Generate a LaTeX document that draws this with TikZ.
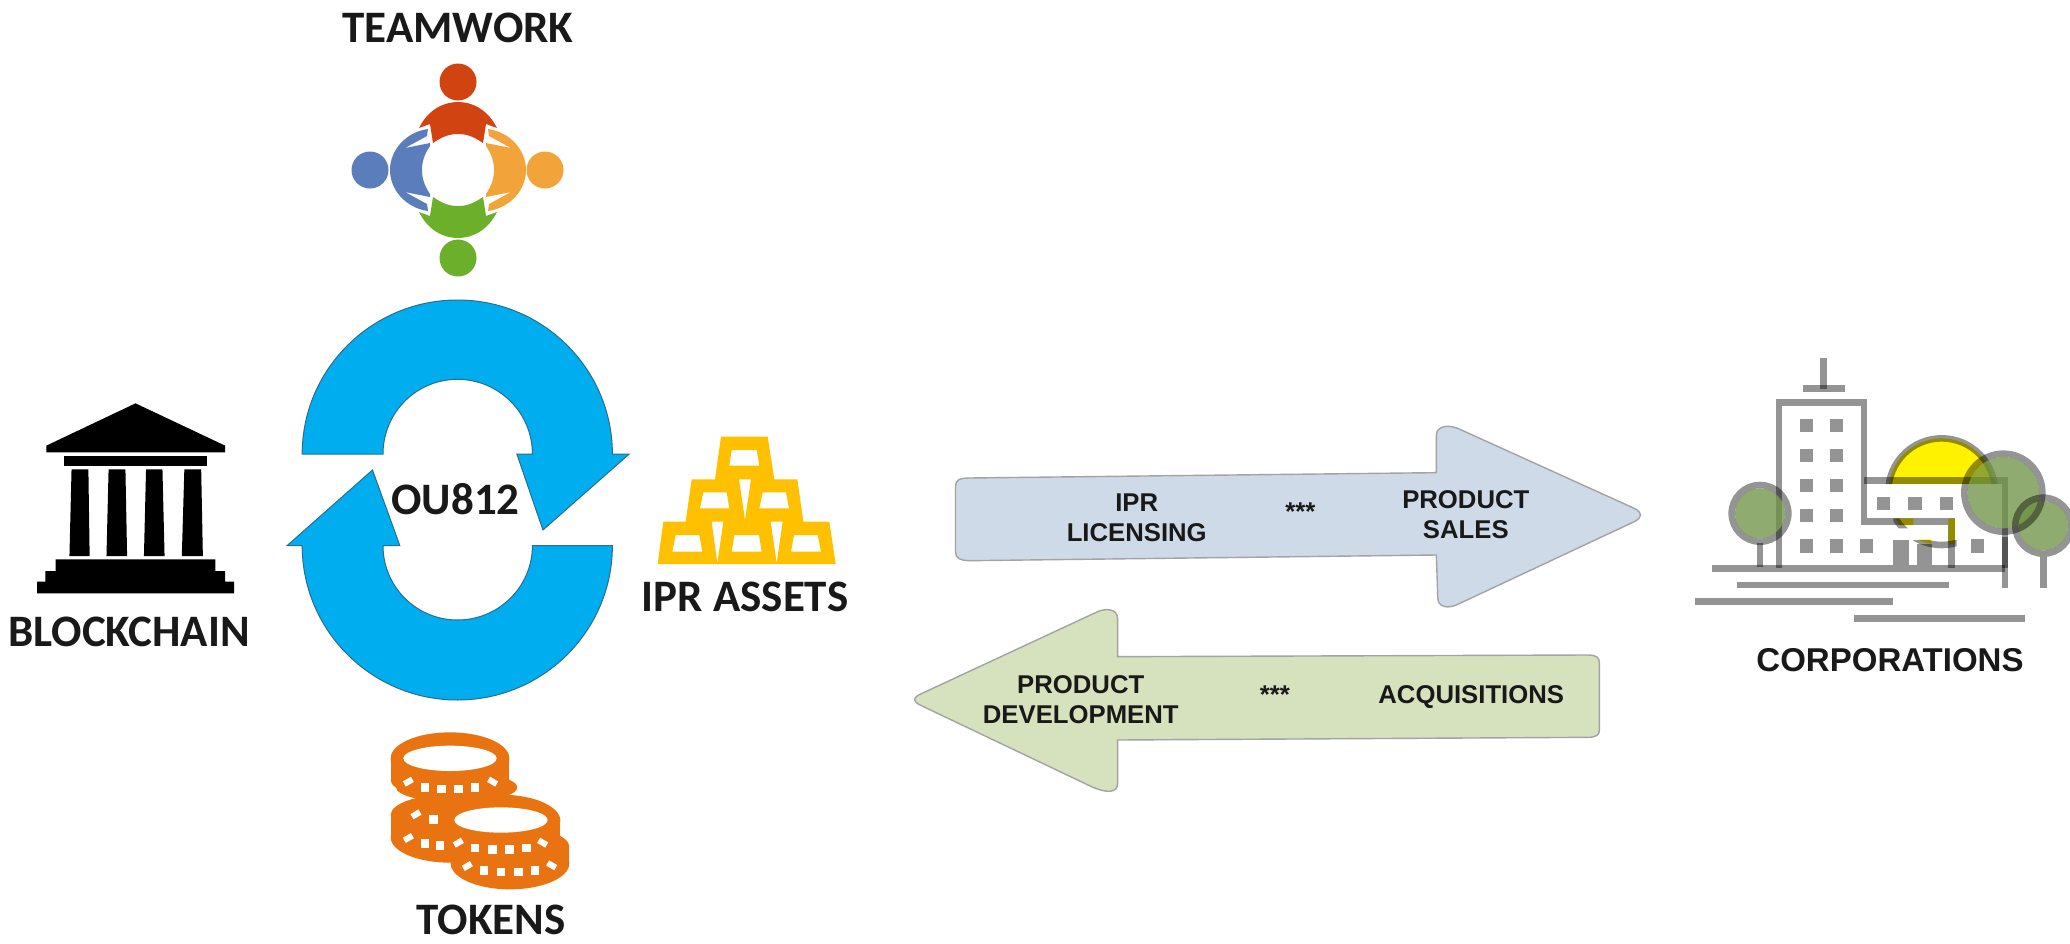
\documentclass[tikz,border=0pt]{standalone}
\usepackage{fontspec}
\setmainfont{Carlito}
\newfontfamily\arl{Liberation Sans}
\definecolor{cyc}{HTML}{00AEEF}
\definecolor{cycl}{HTML}{2A6E8C}
\definecolor{tred}{HTML}{D24312}
\definecolor{tblue}{HTML}{5B7DBB}
\definecolor{tora}{HTML}{F2A33A}
\definecolor{tgre}{HTML}{6BAF2A}
\definecolor{gold}{HTML}{FFC000}
\definecolor{coin}{HTML}{E97311}
\definecolor{arblue}{HTML}{CFDAE8}
\definecolor{argreen}{HTML}{D6E1BE}
\definecolor{argrey}{HTML}{A3A3A3}
\definecolor{treeg}{HTML}{6B9040}
\tikzset{
 lab/.style={inner sep=0pt,font=\fontsize{45}{48}\selectfont\bfseries,text=black!90},
 alab/.style={inner sep=0pt,align=center,font=\arl\fontsize{25.7}{30}\selectfont\bfseries,text=black!90},
 cyclearrow/.style={fill=cyc,draw=cycl,line width=1pt,line join=miter},
 bigarrow/.style={draw=argrey,line width=1.4pt},
 cline/.style={draw=black,draw opacity=.42,line width=6.6pt},
 cfill/.style={fill=black,fill opacity=.42},
 treefill/.style={fill=treeg,fill opacity=.75},
 treeline/.style={draw=black,draw opacity=.42,line width=6.6pt},
}
\begin{document}
\begin{tikzpicture}[x=1pt,y=-1pt]
\path[fill=white,use as bounding box] (0,0) rectangle (2070,943);

% ---- teamwork
\begin{scope}[shift={(458,170)}]
 \fill[tred] (0,-88) circle[radius=18.5];
 \fill[tgre] (0,88) circle[radius=18.5];
 \fill[tblue] (-88,0) circle[radius=18.5];
 \fill[tora] (87,0) circle[radius=18.5];
 \fill[tred] (-39,-42) .. controls (-30,-60) and (-15,-68) .. (0,-68) .. controls (15,-68) and (30,-60) .. (39,-42) -- (28,-46) -- (25,-27) .. controls (15,-34) and (8,-36) .. (0,-36) .. controls (-8,-36) and (-15,-34) .. (-25,-27) -- (-28,-46) -- cycle;
 \fill[tgre] (-39,42) .. controls (-30,60) and (-15,68) .. (0,68) .. controls (15,68) and (30,60) .. (39,42) -- (28,46) -- (25,27) .. controls (15,34) and (8,36) .. (0,36) .. controls (-8,36) and (-15,34) .. (-25,27) -- (-28,46) -- cycle;
 \fill[tblue] (-30,-41) .. controls (-52,-38) and (-68,-20) .. (-68,0) .. controls (-68,20) and (-52,38) .. (-30,41) -- (-31,34) -- (-53,22) -- (-28,27) -- (-28,24) .. controls (-34,15) and (-36,8) .. (-36,0) .. controls (-36,-8) and (-34,-15) .. (-28,-24) -- (-28,-27) -- (-53,-22) -- (-31,-34) -- cycle;
 \fill[tora] (30,-41) .. controls (52,-38) and (68,-20) .. (68,0) .. controls (68,20) and (52,38) .. (30,41) -- (31,34) -- (53,22) -- (28,27) -- (28,24) .. controls (34,15) and (36,8) .. (36,0) .. controls (36,-8) and (34,-15) .. (28,-24) -- (28,-27) -- (53,-22) -- (31,-34) -- cycle;
\end{scope}
\node[lab] (teamwork) at (458,28) {TEAMWORK};

% ---- cycle arrows + bank
\begin{scope}[shift={(0,280)},x=0.42088pt,y=-0.33333pt]
 \path[cyclearrow] (718,522) .. controls (718,267) and (884,60) .. (1087,60) .. controls (1290,60) and (1455,267) .. (1455,522) -- (1495,522) -- (1290,750) -- (1228,522) -- (1265,522) .. controls (1265,398) and (1185,298) .. (1087,298) .. controls (989,298) and (910,398) .. (910,522) -- cycle;
 \path[cyclearrow] (1455,797) .. controls (1455,1053) and (1290,1260) .. (1087,1260) .. controls (884,1260) and (718,1053) .. (718,797) -- (682,797) -- (885,570) -- (950,797) -- (910,797) .. controls (910,920) and (989,1020) .. (1087,1020) .. controls (1185,1020) and (1265,920) .. (1265,797) -- cycle;
 \fill[black] (322,370) -- (535,497) -- (535,517) -- (110,517) -- (110,497) -- cycle;
 \fill[black] (152,527) rectangle (492,558);
 \fill[black] (170,568) -- (210,568) -- (213,828) -- (165,828) -- cycle;
 \fill[black] (258,568) -- (298,568) -- (302,828) -- (253,828) -- cycle;
 \fill[black] (347,568) -- (386,568) -- (391,828) -- (342,828) -- cycle;
 \fill[black] (438,568) -- (478,568) -- (482,828) -- (432,828) -- cycle;
 \fill[black] (132,838) -- (512,838) -- (512,873) -- (535,873) -- (535,905) -- (556,905) -- (556,940) -- (88,940) -- (88,905) -- (108,905) -- (108,873) -- (132,873) -- cycle;
\end{scope}
\node[lab] (blockchain) at (129,632) {BLOCKCHAIN};
\node[lab] (ou) at (455.5,499) {OU812};

% ---- gold
\begin{scope}[shift={(640,400)},x=0.33333pt,y=-0.33333pt]
 \fill[gold,even odd rule] (243,110) -- (383,110) -- (403,238) -- (472,238) -- (490,365) -- (568,365) -- (587,492) -- (53,492) -- (70,365) -- (137,365) -- (155,238) -- (225,238) -- cycle
 (275,150) -- (350,150) -- (358,197) -- (268,197) -- cycle
 (190,277) -- (260,277) -- (268,325) -- (180,325) -- cycle
 (368,277) -- (438,277) -- (447,325) -- (358,325) -- cycle
 (107,405) -- (178,405) -- (187,455) -- (97,455) -- cycle
 (283,405) -- (357,405) -- (365,455) -- (275,455) -- cycle
 (462,405) -- (533,405) -- (543,455) -- (453,455) -- cycle
 (297,238) -- (333,238) -- (315,360) -- cycle
 (215,365) -- (250,365) -- (232,490) -- cycle
 (392,365) -- (428,365) -- (410,490) -- cycle;
\end{scope}
\node[lab] (ipr) at (745,597) {IPR ASSETS};

% ---- tokens
\begin{scope}[shift={(340,700)},x=0.33333pt,y=-0.33333pt]
 \fill[coin] (330,175) ellipse[x radius=178,y radius=78];
 \fill[coin] (152,175) rectangle (508,240);
 \fill[coin] (330,240) ellipse[x radius=178,y radius=55];
 \fill[coin] (350,262) ellipse[x radius=182,y radius=45];
 \fill[coin] (330,345) ellipse[x radius=178,y radius=62];
 \fill[coin] (152,345) rectangle (500,412);
 \fill[coin] (330,412) ellipse[x radius=178,y radius=76];
 \fill[coin] (483,362) ellipse[x radius=178,y radius=78];
 \fill[coin] (305,362) rectangle (661,430);
 \fill[coin] (510,440) ellipse[x radius=178,y radius=60];
 \fill[coin] (332,440) rectangle (688,490);
 \fill[coin] (510,490) ellipse[x radius=178,y radius=78];
 \fill[white] (330,175) ellipse[x radius=140,y radius=38];
 \fill[white] (483,360) ellipse[x radius=140,y radius=38];
 \foreach \px/\py in {255/262,305/267,355/267,405/262,280/358,255/430,300/436,405/444,457/449,508/449,560/444,432/511,483/516,535/516,585/511}
  \fill[white] (\px-13,\py-13) rectangle (\px+13,\py+13);
 \foreach \px/\py/\pr in {205/245/30,458/245/-30,228/343/30,205/414/30,355/428/30,608/428/-30,382/498/30,635/496/-30}
  \fill[white,rotate around={\pr:(\px,\py)}] (\px-14,\py-9) rectangle (\px+14,\py+9);
\end{scope}
\node[lab] (tokens) at (491,920) {TOKENS};

% ---- big arrows
\begin{scope}[shift={(900,410)},x=0.49115pt,y=-0.33333pt]
 \path[bigarrow,fill=arblue] (113,230) .. controls (113,210) and (120,205) .. (140,204) -- (1092,188) -- (1092,75) .. controls (1092,50) and (1115,40) .. (1140,58) -- (1495,295) .. controls (1512,308) and (1512,322) .. (1495,335) -- (1140,580) .. controls (1115,600) and (1095,590) .. (1095,565) -- (1092,435) -- (145,452) .. controls (122,452) and (113,445) .. (113,425) -- cycle;
 \path[bigarrow,fill=argreen] (443,740) -- (443,625) .. controls (443,598) and (420,590) .. (395,610) -- (45,850) .. controls (25,862) and (25,875) .. (45,888) -- (390,1130) .. controls (420,1150) and (443,1150) .. (443,1120) -- (443,990) -- (1400,982) .. controls (1418,982) and (1424,975) .. (1424,960) -- (1424,760) .. controls (1424,742) and (1418,735) .. (1400,735) -- cycle;
 \node[alab] (lic) at (482,323) {IPR\\LICENSING};
 \node[alab] (sta) at (815,305) {***};
 \node[alab] (sales) at (1152,314) {PRODUCT\\SALES};
 \node[alab] (dev) at (368,870) {PRODUCT\\DEVELOPMENT};
 \node[alab] (stb) at (763,853) {***};
 \node[alab] (acq) at (1163,860) {ACQUISITIONS};
\end{scope}

% ---- corporations
\begin{scope}[shift={(1680,340)},x=0.33333pt,y=-0.33333pt]
 % sun
 \begin{scope}
  \clip (500,200) rectangle (1000,432) (805,535) rectangle (825,620) (640,535) rectangle (700,556) (715,598) rectangle (755,612);
  \fill[yellow] (785,455) circle[radius=160];
 \end{scope}
 \begin{scope}
  \clip (500,200) rectangle (1000,432) (640,535) rectangle (700,565) (700,600) rectangle (830,650);
  \draw[cline] (785,455) circle[radius=160];
 \end{scope}
 % building
 \draw[cline] (430,55) -- (430,146);
 \draw[cline] (368,146) -- (495,146);
 \draw[cline] (297,685) -- (297,188) -- (552,188) -- (552,545) -- (815,545) -- (815,685);
 \draw[cline] (552,422) -- (975,422) -- (975,685);
 \draw[cline] (95,685) -- (975,685);
 \foreach \px in {380,470}
  \foreach \py in {257,347,437,527,618}
   \path[cfill] (\px-20,\py-20) rectangle (\px+20,\py+20);
 \foreach \px/\py in {560/618,610/490,705/490,800/490,893/618}
  \path[cfill] (\px-20,\py-20) rectangle (\px+20,\py+20);
 \path[cfill] (640,600) rectangle (686,675);
 \path[cfill] (710,612) rectangle (755,675);
 % ground
 \draw[cline] (170,735) -- (808,735);
 \draw[cline] (45,785) -- (638,785);
 \draw[cline] (522,835) -- (1035,835);
 % trees
 \draw[cline] (240,610) -- (240,680);
 \draw[cline] (975,590) -- (975,745);
 \draw[cline] (1090,650) -- (1090,745);
 \path[treefill] (240,520) circle[radius=75];
 \path[treefill] (970,458) circle[radius=107];
 \path[treefill] (1090,557) circle[radius=74];
 \path[treeline] (240,520) circle[radius=85];
 \path[treeline] (970,458) circle[radius=117];
 \path[treeline] (1090,557) circle[radius=84];
\end{scope}
\node[inner sep=0pt,font=\arl\fontsize{33}{36}\selectfont\bfseries,text=black!90] (corp) at (1890,660) {CORPORATIONS};
\end{tikzpicture}
\end{document}
